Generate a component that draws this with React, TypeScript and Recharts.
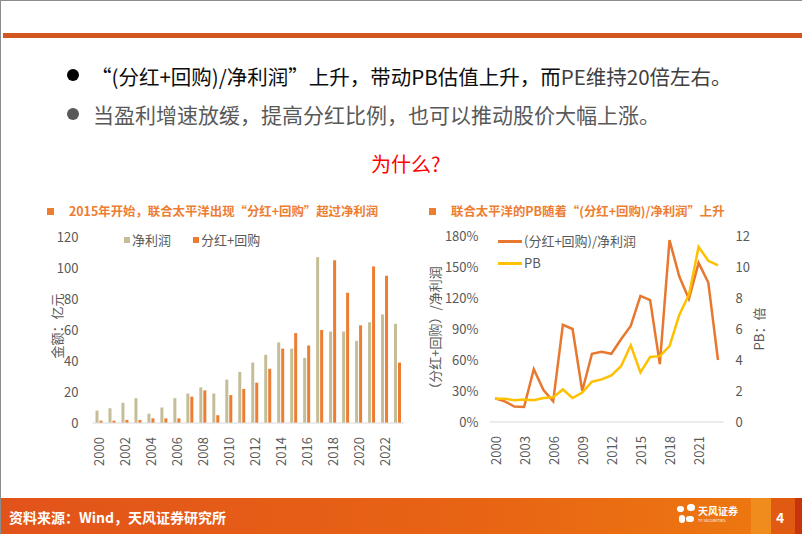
import React from 'react';
import { BarChart, Bar, LineChart, Line, XAxis, YAxis } from 'recharts';

// 年份
const years = [
  '2000', '2001', '2002', '2003', '2004', '2005', '2006', '2007', '2008', '2009', '2010', '2011',
  '2012', '2013', '2014', '2015', '2016', '2017', '2018', '2019', '2020', '2021', '2022', '2023'
];

// 净利润 (亿元)
const netProfit = [8, 9.5, 13, 16, 6, 10, 16, 19, 23, 19, 28, 33, 39, 44, 52, 48, 42, 107, 59, 59, 53, 65, 70, 64];
// 分红+回购 (亿元)
const payout = [1.5, 1.5, 2, 2, 3, 3, 3, 17, 21, 5, 18, 22, 26, 35, 48, 58, 50, 60, 105, 84, 63, 101, 95, 39];

// (分红+回购)/净利润
const payoutRatio = [
  0.23, 0.2, 0.15, 0.145, 0.51, 0.31, 0.2, 0.94, 0.9, 0.3, 0.66, 0.68,
  0.66, 0.8, 0.93, 1.22, 1.18, 0.56, 1.76, 1.41, 1.19, 1.54, 1.35, 0.6
];
// PB (倍)
const pb = [
  1.5, 1.5, 1.4, 1.45, 1.4, 1.55, 1.6, 2.1, 1.55, 1.9, 2.6, 2.75,
  3.0, 3.6, 4.95, 3.2, 4.2, 4.25, 4.9, 6.9, 8.2, 11.3, 10.4, 10.1
];

const leftTicks = [0, 20, 40, 60, 80, 100, 120];
const ratioTicks = [0, 0.3, 0.6, 0.9, 1.2, 1.5, 1.8];
const pbTicks = [0, 2, 4, 6, 8, 10, 12];

const barData = years.map((y, i) => ({ year: y, np: netProfit[i], pay: payout[i] }));
const lineData = years.map((y, i) => ({ year: y, ratio: payoutRatio[i], pb: pb[i] }));

const FONT = '"Noto Sans CJK SC", "Noto Sans", sans-serif';
const GREY = '#595959';
const ORANGE = '#ED7D31';
const TAN = '#C4BD97';

const YearTick = (props: any) => {
  const { x, y, payload } = props;
  return (
    <text
      x={0}
      y={0}
      transform={`translate(${x},${y + 6}) rotate(-90)`}
      textAnchor="end"
      dominantBaseline="central"
      fontSize={13}
      fill={GREY}
      fontFamily={FONT}
    >
      {payload.value}
    </text>
  );
};

const abs = (left: number, top: number): React.CSSProperties => ({ position: 'absolute', left, top });

export default function App() {
  return (
    <div
      style={{
        position: 'absolute',
        left: 0,
        top: 0,
        width: 802,
        height: 534,
        overflow: 'hidden',
        background: '#fff',
        fontFamily: FONT,
        boxSizing: 'border-box',
        borderLeft: '1px solid #8c8c8c',
        borderTop: '1px solid #8c8c8c'
      }}
    >
      {/* top rule */}
      <div style={{ ...abs(2, 32), width: 800, height: 5, background: '#D2561F' }} />

      {/* bullets */}
      <div style={{ ...abs(66, 68), width: 12, height: 12, borderRadius: 6, background: '#000' }} />
      <div style={{ ...abs(90, 60), fontSize: 20.5, color: '#0d0d0d', whiteSpace: 'nowrap', lineHeight: '30px' }}>
        “(分红+回购)/净利润”上升，带动PB估值上升，而<span style={{ color: '#404040' }}>PE维持20倍左右。</span>
      </div>
      <div style={{ ...abs(66, 107), width: 12, height: 12, borderRadius: 6, background: GREY }} />
      <div style={{ ...abs(92, 98), fontSize: 21, color: GREY, whiteSpace: 'nowrap', lineHeight: '30px' }}>
        当盈利增速放缓，提高分红比例，也可以推动股价大幅上涨。
      </div>
      <div style={{ ...abs(370, 148), fontSize: 20, color: '#FF0000', whiteSpace: 'nowrap', lineHeight: '30px' }}>
        为什么?
      </div>

      {/* left chart title */}
      <div style={{ ...abs(46, 207), width: 7, height: 7, background: ORANGE }} />
      <div style={{ ...abs(68, 201), fontSize: 12.4, fontWeight: 700, color: ORANGE, whiteSpace: 'nowrap', lineHeight: '18px' }}>
        2015年开始，联合太平洋出现“分红+回购”超过净利润
      </div>

      {/* left chart */}
      <div style={abs(0, 0)}>
        <BarChart
          width={410}
          height={480}
          data={barData}
          margin={{ top: 236, bottom: 8, left: 40, right: 7 }}
          barSize={3}
          barGap={1}
        >
          <XAxis
            dataKey="year"
            interval={1}
            tickLine={false}
            axisLine={{ stroke: '#D9D9D9' }}
            tick={<YearTick />}
            height={50}
          />
          <YAxis
            width={51.5}
            domain={[0, 120]}
            ticks={leftTicks}
            axisLine={false}
            tickLine={false}
            tickSize={0}
            tickMargin={14}
            tick={{ fontSize: 13, fill: GREY, fontFamily: FONT }}
          />
          <Bar dataKey="np" fill={TAN} isAnimationActive={false} />
          <Bar dataKey="pay" fill={ORANGE} isAnimationActive={false} />
        </BarChart>
      </div>
      <div style={{ ...abs(123, 236), width: 6, height: 6, background: TAN }} />
      <div style={{ ...abs(131, 230), fontSize: 13, color: GREY, whiteSpace: 'nowrap', lineHeight: '18px' }}>净利润</div>
      <div style={{ ...abs(192, 236), width: 6, height: 6, background: ORANGE }} />
      <div style={{ ...abs(200, 230), fontSize: 13, color: GREY, whiteSpace: 'nowrap', lineHeight: '18px' }}>分红+回购</div>
      <div
        style={{
          ...abs(55, 325),
          transform: 'translate(-50%, -50%) rotate(-90deg)',
          fontSize: 13,
          color: GREY,
          whiteSpace: 'nowrap'
        }}
      >
        金额：亿元
      </div>

      {/* right chart title */}
      <div style={{ ...abs(428, 207), width: 7, height: 7, background: ORANGE }} />
      <div style={{ ...abs(450, 201), fontSize: 12.4, fontWeight: 700, color: ORANGE, whiteSpace: 'nowrap', lineHeight: '18px' }}>
        联合太平洋的PB随着“(分红+回购)/净利润”上升
      </div>

      {/* right chart */}
      <div style={abs(410, 0)}>
        <LineChart
          width={392}
          height={480}
          data={lineData}
          margin={{ top: 235, bottom: 9, left: 26.5, right: 27.5 }}
        >
          <XAxis
            dataKey="year"
            interval={2}
            padding={{ left: 5.5, right: 5.5 }}
            tickLine={false}
            axisLine={{ stroke: '#D9D9D9' }}
            tick={<YearTick />}
            height={50}
          />
          <YAxis
            yAxisId="left"
            width={52}
            domain={[0, 1.8]}
            ticks={ratioTicks}
            tickFormatter={(v: number) => `${Math.round(v * 100)}%`}
            axisLine={false}
            tickLine={false}
            tickSize={0}
            tickMargin={11}
            tick={{ fontSize: 13, fill: GREY, fontFamily: FONT }}
          />
          <YAxis
            yAxisId="right"
            orientation="right"
            width={52}
            domain={[0, 12]}
            ticks={pbTicks}
            axisLine={false}
            tickLine={false}
            tickSize={0}
            tickMargin={12}
            tick={{ fontSize: 13, fill: GREY, fontFamily: FONT }}
          />
          <Line
            yAxisId="left"
            dataKey="ratio"
            stroke="#E8782F"
            strokeWidth={2.5}
            dot={false}
            isAnimationActive={false}
          />
          <Line
            yAxisId="right"
            dataKey="pb"
            stroke="#FFC000"
            strokeWidth={2.5}
            dot={false}
            isAnimationActive={false}
          />
        </LineChart>
      </div>
      <div style={{ ...abs(497, 239), width: 24, height: 3, background: '#E8782F' }} />
      <div style={{ ...abs(523, 231), fontSize: 13, color: GREY, whiteSpace: 'nowrap', lineHeight: '18px' }}>(分红+回购)/净利润</div>
      <div style={{ ...abs(497, 261), width: 24, height: 3, background: '#FFC000' }} />
      <div style={{ ...abs(523, 253), fontSize: 13, color: GREY, whiteSpace: 'nowrap', lineHeight: '18px' }}>PB</div>
      <div
        style={{
          ...abs(433, 330),
          transform: 'translate(-50%, -50%) rotate(-90deg)',
          fontSize: 13,
          color: GREY,
          whiteSpace: 'nowrap'
        }}
      >
        （分红+回购）/净利润
      </div>
      <div
        style={{
          ...abs(757, 328),
          transform: 'translate(-50%, -50%) rotate(-90deg)',
          fontSize: 13,
          color: GREY,
          whiteSpace: 'nowrap'
        }}
      >
        PB：倍
      </div>

      {/* footer */}
      <div
        style={{
          ...abs(0, 497),
          width: 802,
          height: 37,
          background: 'linear-gradient(90deg, #E2531A 0%, #E86414 60%, #EE7A10 100%)'
        }}
      />
      <div style={{ ...abs(750, 497), width: 20, height: 37, background: '#F08C1E' }} />
      <div style={{ ...abs(770, 497), width: 24, height: 37, background: '#E05A12' }} />
      <div style={{ ...abs(794, 497), width: 8, height: 37, background: '#C8350C' }} />
      <div style={{ ...abs(8, 506), fontSize: 14, fontWeight: 700, color: '#fff', whiteSpace: 'nowrap', lineHeight: '20px' }}>
        资料来源：Wind，天风证券研究所
      </div>
      <div style={{ ...abs(676, 505), width: 7, height: 6, borderRadius: 3, background: '#fff' }} />
      <div style={{ ...abs(686, 503), width: 8, height: 7, borderRadius: 4, background: '#fff' }} />
      <div style={{ ...abs(678, 514), width: 6, height: 8, borderRadius: 3, background: '#fff' }} />
      <div style={{ ...abs(685, 515), width: 8, height: 6, borderRadius: 3, background: '#fff' }} />
      <div style={{ ...abs(697, 504), fontSize: 10, fontWeight: 700, color: '#fff', whiteSpace: 'nowrap', lineHeight: '12px' }}>
        天风证券
      </div>
      <div style={{ ...abs(697, 517), fontSize: 4, color: '#fff', whiteSpace: 'nowrap', lineHeight: '5px' }}>
        TF SECURITIES
      </div>
      <div style={{ ...abs(775, 506), fontSize: 14, fontWeight: 700, color: '#fff', lineHeight: '20px' }}>4</div>
    </div>
  );
}
